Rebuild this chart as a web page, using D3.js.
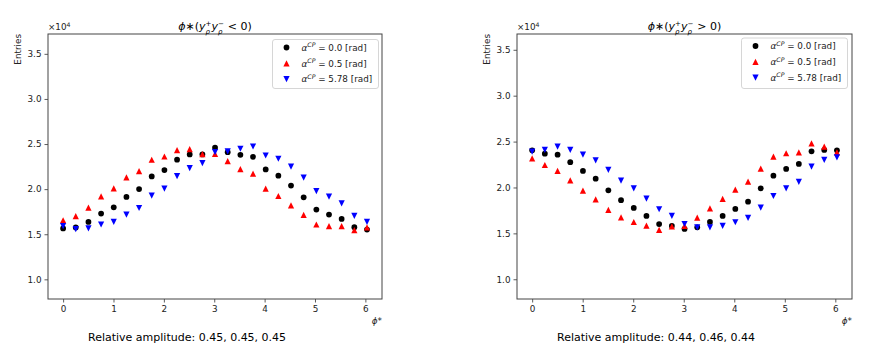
<!DOCTYPE html>
<html><head><meta charset="utf-8">
<script src="https://cdn.jsdelivr.net/npm/d3@7"></script>
<style>body{margin:0;background:#fff}svg{display:block}</style>
</head><body><svg id="c" width="872" height="349"></svg>
<script>
// phi* bin centres
const phiStar = [0, 0.251, 0.503, 0.754, 1.005, 1.257, 1.508, 1.759, 2.011, 2.262, 2.513, 2.765, 3.016,
  3.267, 3.519, 3.770, 4.021, 4.273, 4.524, 4.775, 5.027, 5.278, 5.529, 5.781, 6.032];
// Entries (x10^4), y+y- < 0
const negA00 = [1.564,1.575,1.636,1.729,1.799,1.913,2.001,2.141,2.211,2.326,2.385,2.385,2.459,2.410,2.381,2.359,2.219,2.149,2.039,1.909,1.773,1.718,1.670,1.578,1.552];
const negA05 = [1.655,1.700,1.796,1.920,2.009,2.130,2.200,2.326,2.362,2.432,2.443,2.388,2.392,2.310,2.222,2.171,2.006,1.924,1.821,1.714,1.608,1.589,1.589,1.545,1.575];
const negA578 = [1.589,1.556,1.564,1.608,1.636,1.718,1.791,1.928,2.006,2.145,2.233,2.288,2.410,2.418,2.448,2.473,2.373,2.337,2.249,2.127,1.979,1.917,1.843,1.703,1.636];
// Entries (x10^4), y+y- > 0
const posA00 = [2.405,2.368,2.357,2.275,2.180,2.096,1.969,1.861,1.777,1.690,1.602,1.581,1.548,1.566,1.624,1.690,1.766,1.845,1.991,2.129,2.202,2.256,2.394,2.409,2.405];
const posA05 = [2.318,2.245,2.180,2.078,1.965,1.871,1.755,1.675,1.624,1.584,1.537,1.577,1.581,1.671,1.773,1.875,1.976,2.063,2.205,2.336,2.373,2.383,2.481,2.444,2.383];
const posA578 = [2.390,2.409,2.444,2.409,2.357,2.296,2.191,2.074,1.991,1.878,1.763,1.690,1.602,1.566,1.566,1.581,1.621,1.668,1.780,1.907,1.991,2.060,2.227,2.300,2.329];

const xTicks = [0,1,2,3,4,5,6];
const yTicks = [1.0,1.5,2.0,2.5,3.0,3.5];
const seriesLabels = ["0.0","0.5","5.78"];
const seriesColors = ["#000000","#ff0000","#0000ff"];
const seriesMarkers = ["circle","up","down"];
const amplitudesNeg = "Relative amplitude: 0.45, 0.45, 0.45";
const amplitudesPos = "Relative amplitude: 0.44, 0.46, 0.44";

const svg = d3.select("#c");
const FONT = "DejaVu Sans, Liberation Sans, sans-serif";

function marker(kind){
  if (kind === "circle") return d3.symbol(d3.symbolCircle, 26)();
  const s = 3.1;
  if (kind === "up") return `M0,${-s}L${-s},${s}L${s},${s}Z`;
  return `M0,${s}L${-s},${-s}L${s},${-s}Z`;
}

function addTitle(g, cx, y, sign){
  const t = g.append("text").attr("x", cx).attr("y", y).attr("text-anchor","middle")
    .attr("font-family", FONT).attr("font-size", 11).attr("fill","#000");
  t.append("tspan").attr("font-style","italic").text("ϕ");
  t.append("tspan").text("∗(");
  t.append("tspan").attr("font-style","italic").text("y");
  t.append("tspan").attr("font-size",7).attr("dy",-4.5).text("+");
  t.append("tspan").attr("font-size",7).attr("font-style","italic").attr("dx",-5.9).attr("dy",8).text("ρ");
  t.append("tspan").attr("font-style","italic").attr("dx",1.5).attr("dy",-3.5).text("y");
  t.append("tspan").attr("font-size",7).attr("dy",-4.5).text("−");
  t.append("tspan").attr("font-size",7).attr("font-style","italic").attr("dx",-5.9).attr("dy",8).text("ρ");
  t.append("tspan").attr("dx",2).attr("dy",-3.5).text(" " + (sign < 0 ? "<" : ">") + " 0)");
}

function panel(opts){
  const {left, right, top, bottom, ydom, data, sign, amp, legendBox} = opts;
  const x = d3.scaleLinear().domain([-0.30, 6.33]).range([left, right]);
  const y = d3.scaleLinear().domain(ydom).range([bottom, top]);
  const g = svg.append("g");

  // data
  data.forEach((vals, si) => {
    g.append("g").selectAll("path").data(vals).join("path")
      .attr("transform", (d,i) => `translate(${x(phiStar[i])},${y(d)})`)
      .attr("d", marker(seriesMarkers[si]))
      .attr("fill", seriesColors[si]);
  });

  // axes
  const ax = g.append("g").attr("transform",`translate(0,${bottom})`)
    .call(d3.axisBottom(x).tickValues(xTicks).tickFormat(d3.format("d")).tickSize(3.5).tickPadding(3));
  const ay = g.append("g").attr("transform",`translate(${left},0)`)
    .call(d3.axisLeft(y).tickValues(yTicks).tickFormat(d3.format(".1f")).tickSize(3.5).tickPadding(3));
  [ax, ay].forEach(a => {
    a.select(".domain").remove();
    a.selectAll(".tick line").attr("stroke","#333").attr("stroke-width",0.8);
    a.selectAll(".tick text").attr("font-family",FONT).attr("font-size",8.8).attr("fill","#222");
  });

  // spines
  g.append("rect").attr("x",left).attr("y",top).attr("width",right-left).attr("height",bottom-top)
    .attr("fill","none").attr("stroke","#444").attr("stroke-width",1);

  // offset text
  const off = g.append("text").attr("x",left).attr("y",top-4).attr("font-family",FONT)
    .attr("font-size",8.8).attr("fill","#222");
  off.append("tspan").text("×10");
  off.append("tspan").attr("font-size",6.2).attr("dy",-3.5).text("4");

  addTitle(g, (left+right)/2, top-4, sign);

  // y label
  g.append("text").attr("transform",`translate(${left-27},${top}) rotate(-90)`)
    .attr("text-anchor","end").attr("font-family",FONT).attr("font-size",8.8).attr("fill","#222")
    .text("Entries");
  // x label
  const xl = g.append("text").attr("x",right).attr("y",bottom+25).attr("text-anchor","end")
    .attr("font-family",FONT).attr("font-size",8.8).attr("fill","#222");
  xl.append("tspan").attr("font-style","italic").text("ϕ");
  xl.append("tspan").text("*");

  // amplitude
  g.append("text").attr("x", left + 40).attr("y", bottom+42).attr("font-family",FONT)
    .attr("font-size",11).attr("fill","#000").text(amp);

  // legend
  const lb = legendBox;
  g.append("rect").attr("x",lb.x).attr("y",lb.y).attr("width",lb.w).attr("height",lb.h)
    .attr("rx",2.5).attr("fill","#fff").attr("stroke","#ccc").attr("stroke-width",0.8);
  seriesLabels.forEach((lab, i) => {
    const ry = lb.y + 8 + i*15.8;
    g.append("path").attr("transform",`translate(${lb.x+14},${ry})`)
      .attr("d", marker(seriesMarkers[i])).attr("fill", seriesColors[i]);
    const t = g.append("text").attr("x", lb.x+29).attr("y", ry+3.2).attr("font-family",FONT)
      .attr("font-size",8.8).attr("fill","#222");
    t.append("tspan").attr("font-style","italic").text("α");
    t.append("tspan").attr("font-style","italic").attr("font-size",6.2).attr("dy",-3.5).text("CP");
    t.append("tspan").attr("dy",3.5).text(` = ${lab} [rad]`);
  });
}

panel({left:48, right:382, top:34, bottom:299, ydom:[0.782, 3.72],
  data:[negA00, negA05, negA578], sign:-1, amp:amplitudesNeg,
  legendBox:{x:272.5, y:39.5, w:106, h:49}});
panel({left:517, right:852, top:34, bottom:299, ydom:[0.785, 3.672],
  data:[posA00, posA05, posA578], sign:1, amp:amplitudesPos,
  legendBox:{x:741.5, y:38, w:106, h:50.5}});
</script></body></html>
